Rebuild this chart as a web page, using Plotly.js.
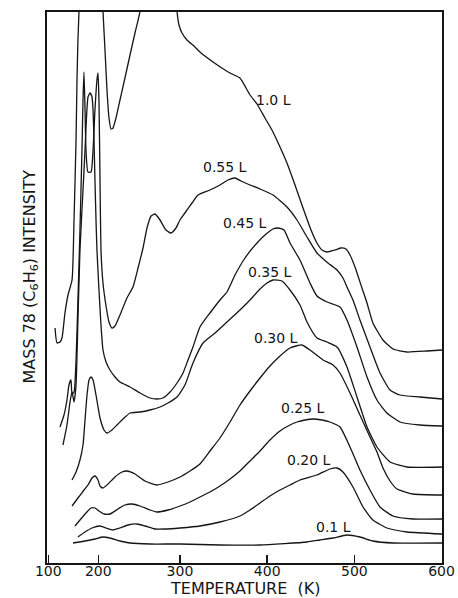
<!DOCTYPE html>
<html>
<head>
<meta charset="utf-8">
<script src="https://cdn.plot.ly/plotly-3.0.1.min.js"></script>
<style>html,body{margin:0;padding:0;background:#fff;}#chart{width:458px;height:598px;}</style>
</head>
<body>
<div id="chart"></div>
<script>
// Temperature axis (K) as drawn; tick positions on the drawn scale and their printed labels
const tickPositions = [149, 206.3, 300, 400, 500, 600];
const tickLabels = ["100", "200", "300", "400", "500", "600"];

// Exposure labels (Langmuir)
const exposures = ["1.0 L", "0.55 L", "0.45 L", "0.35 L", "0.30 L", "0.25 L", "0.20 L", "0.1 L"];

// Mass 78 intensity (arbitrary units, curves offset as in the figure)
const t_10 = [156.7,159.0,162.4,164.7,168.1,171.6,176.2,178.5,180.8,181.9,183.0,184.2,185.3,209.4,211.7,214.0,216.3,218.6,220.9,223.2,226.6,231.2,236.9,242.7,248.4,254.2,257.6,294.3,296.6,298.9,302.3,308.0,317.2,322.9,337.9,351.6,359.6,368.8,380.3,388.3,397.5,405.5,414.7,422.7,431.9,441.1,450.3,457.1,462.9,468.6,477.8,484.7,490.4,495.0,500.7,508.7,514.5,521.3,532.8,544.3,560.3,583.3,600.5];
const i_10 = [235,220,221,225,250,268,283,343,423,483,523,552,603,603,552,513,473,445,434,435,445,463,485,508,530,552,603,603,552,538,530,523,516,511,501,493,489,485,468,459,445,433,416,400,378,355,333,320,313,311,313,315,314,308,296,275,260,240,223,214,211,212,213];

const t_055 = [162.4,167.0,170.4,172.7,175.0,176.2,178.5,180.8,183.0,185.3,187.6,188.8,189.9,191.1,192.2,194.5,198.0,200.3,202.5,204.8,206.0,207.1,208.3,209.4,211.7,215.2,218.6,222.0,225.5,231.2,239.2,246.1,251.9,257.6,262.2,266.8,271.3,277.1,283.9,289.7,295.4,300.0,305.7,313.8,320.7,334.4,345.9,355.1,363.1,370.0,380.3,391.8,406.7,422.7,434.2,445.7,457.1,469.7,480.1,486.9,491.5,498.4,506.4,517.9,529.4,540.9,552.3,575.2,600.5];
const i_055 = [136,148,163,178,183,169,171,203,263,333,413,463,491,453,413,391,391,413,453,483,490,463,383,313,280,257,241,235,237,248,265,276,295,315,335,347,349,343,333,330,335,343,350,360,368,373,378,383,385,382,378,374,368,356,343,326,310,300,293,285,276,263,243,216,190,173,168,166,164];

const t_045 = [165.8,170.4,173.9,176.2,178.5,180.8,183.0,185.3,188.8,191.1,192.2,193.4,194.5,196.8,199.1,200.3,201.4,202.5,203.7,204.8,207.1,209.4,211.7,215.2,219.7,225.5,231.2,242.7,254.2,265.6,273.6,280.5,288.6,296.6,303.5,309.2,314.9,322.9,334.4,345.9,353.9,363.1,374.6,388.3,397.5,406.7,412.4,419.3,426.2,437.6,449.1,457.1,468.6,483.5,491.5,503.0,514.5,525.9,537.4,552.3,575.2,600.5];
const i_045 = [118,138,161,171,161,178,243,313,373,413,435,455,466,470,466,453,423,383,343,313,273,238,213,201,193,186,181,176,170,165,164,165,171,180,190,203,216,236,250,263,271,288,305,320,328,334,335,333,320,303,280,267,261,256,243,216,186,163,150,141,138,137];

const t_035 = [176.2,180.8,185.3,188.8,191.1,193.4,195.7,198.0,200.3,203.7,208.3,212.9,216.3,222.0,227.8,233.5,242.7,254.2,265.6,277.1,286.3,296.6,305.7,314.9,326.4,340.2,353.9,368.8,380.3,391.8,399.8,406.7,417.0,426.2,437.6,445.7,457.1,468.6,480.1,491.5,503.0,514.5,525.9,540.9,560.3,600.5];
const i_035 = [83,91,103,118,143,168,183,186,183,168,145,133,130,133,138,143,150,151,153,156,160,166,178,200,220,230,241,253,263,274,280,283,282,273,258,241,225,221,216,196,166,136,116,101,96,96];

const t_030 = [176.2,183.0,189.9,194.5,199.1,202.5,206.0,208.3,211.7,217.5,225.5,233.5,239.2,248.4,259.9,273.6,286.3,300.0,311.5,322.9,334.4,345.9,357.4,368.8,380.3,391.8,403.2,414.7,426.2,433.1,439.9,449.1,464.0,475.5,483.5,495.0,506.4,517.9,525.9,532.8,540.9,548.9,567.2,600.5];
const i_030 = [57,65,73,78,85,87,83,77,75,79,86,91,92,89,82,78,81,86,92,99,112,125,141,158,172,185,197,207,215,217,218,213,203,198,190,170,148,126,111,95,82,74,69,68];

const t_025 = [179.6,185.3,192.2,198.0,202.5,207.1,212.9,219.7,228.9,236.9,245.0,254.2,265.6,273.6,286.3,300.0,311.5,322.9,334.4,345.9,357.4,368.8,380.3,391.8,403.2,414.7,426.2,434.2,443.4,452.5,462.9,472.0,483.5,495.0,506.4,517.9,529.4,544.3,567.2,600.5];
const i_025 = [37,43,50,55,55,52,49,49,54,58,59,57,53,51,53,57,61,66,71,77,84,92,102,112,123,132,138,141,143,144,143,141,136,116,93,73,56,47,44,44];

const t_020 = [183.0,191.1,199.1,208.3,215.2,223.2,231.2,240.4,250.7,259.9,271.3,282.8,300.0,322.9,345.9,368.8,380.3,391.8,403.2,414.7,426.2,437.6,457.1,472.0,480.1,486.9,498.4,509.9,521.3,537.4,560.3,600.5];
const i_020 = [26,31,35,37,35,33,35,38,39,37,34,34,35,37,41,47,53,60,67,73,78,83,88,94,95,91,76,56,43,35,31,29];

const t_01 = [177.3,191.1,202.5,211.7,219.7,231.2,242.7,265.6,300.0,345.9,391.8,445.7,460.6,475.5,491.5,506.4,521.3,544.3,600.5];
const i_01 = [20,22,24,26,25,22,20,19,19,18,18,21,23,25,28,26,22,20,20];

// Label anchor positions for each exposure (temperature, intensity)
const labelT = [407.8, 351.6, 374.6, 403.2, 410.1, 441.1, 448.0, 476.6];
const labelI = [463, 396, 340, 291, 225, 155, 103, 36];

const xTitle = 'TEMPERATURE  (K)';
const yTitle = 'MASS 78 (C<sub>6</sub>H<sub>6</sub>) INTENSITY';

const xs = [t_10, t_055, t_045, t_035, t_030, t_025, t_020, t_01];
const ys = [i_10, i_055, i_045, i_035, i_030, i_025, i_020, i_01];

const ink = '#151515';
const font = 'DejaVu Sans, Verdana, sans-serif';

const traces = xs.map((x, k) => ({
  type: 'scatter', mode: 'lines', x: x, y: ys[k], name: exposures[k],
  line: {color: ink, width: 1.3, shape: 'spline', smoothing: 0.5},
  hoverinfo: 'skip'
}));

const annotations = exposures.map((txt, k) => ({
  x: labelT[k], y: labelI[k], xref: 'x', yref: 'y', text: txt,
  showarrow: false, xanchor: 'center', yanchor: 'middle',
  font: {family: font, size: 14, color: ink}
}));
// axis titles
annotations.push({
  x: 0.5, y: -0.047, xref: 'paper', yref: 'paper', text: xTitle,
  showarrow: false, xanchor: 'center', yanchor: 'middle', borderpad: 0,
  font: {family: font, size: 16, color: ink}
});
annotations.push({
  x: -0.043, y: 0.52, xref: 'paper', yref: 'paper', text: yTitle, textangle: -90,
  showarrow: false, xanchor: 'center', yanchor: 'middle',
  font: {family: font, size: 16, color: ink}
});

const layout = {
  width: 458, height: 598,
  margin: {l: 47, r: 16, t: 12, b: 35, pad: 0},
  paper_bgcolor: '#fff', plot_bgcolor: '#fff',
  showlegend: false,
  xaxis: {
    range: [147.5, 600.5], tickmode: 'array', tickvals: tickPositions, ticktext: tickLabels,
    ticks: 'inside', ticklen: 8, tickwidth: 1.5, tickcolor: ink, ticklabelstandoff: -6,
    showline: true, linewidth: 2, linecolor: ink, mirror: true,
    showgrid: false, zeroline: false,
    tickfont: {family: font, size: 14, color: ink}
  },
  yaxis: {
    range: [0, 551], showticklabels: false, ticks: '',
    showline: true, linewidth: 2, linecolor: ink, mirror: true,
    showgrid: false, zeroline: false
  },
  annotations: annotations
};

Plotly.newPlot('chart', traces, layout, {staticPlot: true, displayModeBar: false});
</script>
</body>
</html>
